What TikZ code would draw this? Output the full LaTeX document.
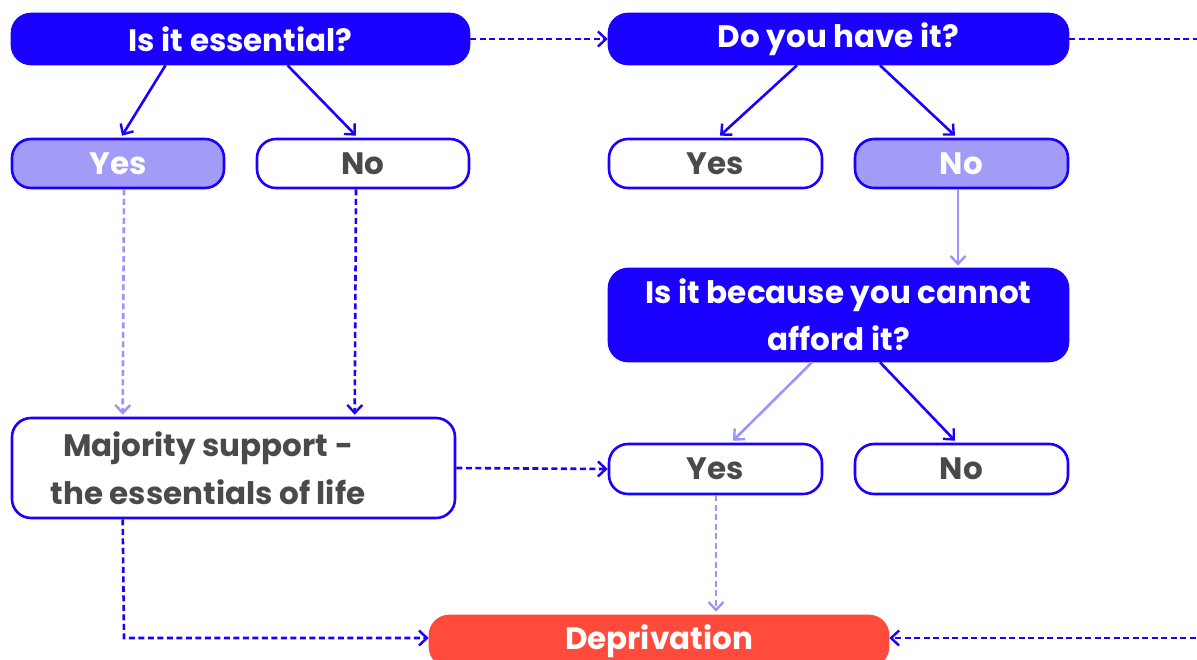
\documentclass[tikz,border=0pt]{standalone}
\usepackage{fontspec}
\setmainfont{Poppins}
\usetikzlibrary{arrows.meta,calc}
\definecolor{qblue}{HTML}{1A00FF}
\definecolor{lpurp}{HTML}{A39CF6}
\definecolor{lline}{HTML}{9C94F7}
\definecolor{dred}{HTML}{FF4B3C}
\definecolor{tgray}{HTML}{4A4A4A}
\tikzset{
  box/.style={rectangle, rounded corners=19pt, line width=2.6pt, draw=qblue, inner sep=0pt, font=\fontsize{31}{47}\selectfont\bfseries},
  qbox/.style={box, fill=qblue, text=white},
  lbox/.style={box, fill=lpurp, text=white},
  wbox/.style={box, fill=white, text=tgray},
  rbox/.style={box, draw=dred, fill=dred, text=white},
  conn/.style={line width=2.6pt, draw=qblue, -{Straight Barb[length=8pt,width=15pt,line width=2.4pt]}},
  lconn/.style={conn, draw=lline},
  dconn/.style={conn, dash pattern=on 6pt off 3.5pt},
  ldconn/.style={lconn, dash pattern=on 6pt off 3.5pt},
}
\begin{document}
\begin{tikzpicture}[x=1pt,y=-1pt]
\useasboundingbox (0,0) rectangle (1197,659);
\clip (0,0) rectangle (1197,659);
% nodes
\node[qbox, minimum width=457pt, minimum height=50pt] (q1) at (240.5,39) {Is it essential?};
\node[lbox, minimum width=212pt, minimum height=49pt] (yes1) at (118,163.5) {Yes};
\node[wbox, minimum width=212pt, minimum height=49pt] (no1) at (363,163.5) {No};
\node[qbox, minimum width=459pt, minimum height=50pt] (q2) at (838.5,39) {Do you have it?};
\node[wbox, minimum width=213pt, minimum height=49pt] (yes2) at (715.5,163.5) {Yes};
\node[lbox, minimum width=213pt, minimum height=49pt] (no2) at (961.5,163.5) {No};
\node[qbox, minimum width=459pt, minimum height=92pt, align=center] (q3) at (838.5,315) {Is it because you cannot\\afford it?};
\node[wbox, minimum width=213pt, minimum height=50pt] (yes3) at (715.5,469) {Yes};
\node[wbox, minimum width=213pt, minimum height=50pt] (no3) at (961.5,469) {No};
\node[wbox, minimum width=443pt, minimum height=100pt] (maj) at (233.5,468) {};
\node[font=\fontsize{31}{48}\selectfont\bfseries, text=tgray, align=center] (majtext) at (208,468) {Majority support -\\the essentials of life};
\node[rbox, minimum width=458pt, minimum height=50pt] (dep) at (659,641) {Deprivation};
\coordinate (offR) at (1205,39);
\coordinate (offRb) at (1205,638);
\coordinate (bend) at (124,638);
% solid connectors
\draw[conn] ($(q1.south)+(-75,0)$) -- ($(yes1.north)+(4,-2)$);
\draw[conn] ($(q1.south)+(47,0)$) -- ($(no1.north)+(-7,-2)$);
\draw[conn] ($(q2.south)+(-41.5,0)$) -- ($(yes2.north)+(4.5,-2)$);
\draw[conn] ($(q2.south)+(41.5,0)$) -- ($(no2.north)+(-6.5,-2)$);
\draw[lconn] ($(no2.south)+(-3.5,0)$) -- ($(q3.north)+(119.5,-2)$);
\draw[lconn] ($(q3.south)+(-26.5,0)$) -- ($(yes3.north)+(17.5,-2)$);
\draw[conn] ($(q3.south)+(41.5,0)$) -- ($(no3.north)+(-6.5,-2)$);
% dashed connectors
\draw[dconn] (q1.east) -- (q2.west);
\draw[dconn, -] (q2.east) -- (offR);
\draw[ldconn] ($(yes1.south)+(6,0)$) -- ($(maj.north west)+(112,-2)$);
\draw[dconn] ($(no1.south)+(-7,0)$) -- ($(maj.north west)+(344,-2)$);
\draw[dconn] (maj.east) -- (yes3.west);
\draw[dconn] ($(maj.south west)+(112,0)$) -- (bend) -- ($(dep.west)+(0,-3)$);
\draw[ldconn] ($(yes3.south)+(0.5,0)$) -- ($(dep.north)+(57,-3)$);
\draw[dconn] (offRb) -- ($(dep.east)+(0,-3)$);
\end{tikzpicture}
\end{document}
